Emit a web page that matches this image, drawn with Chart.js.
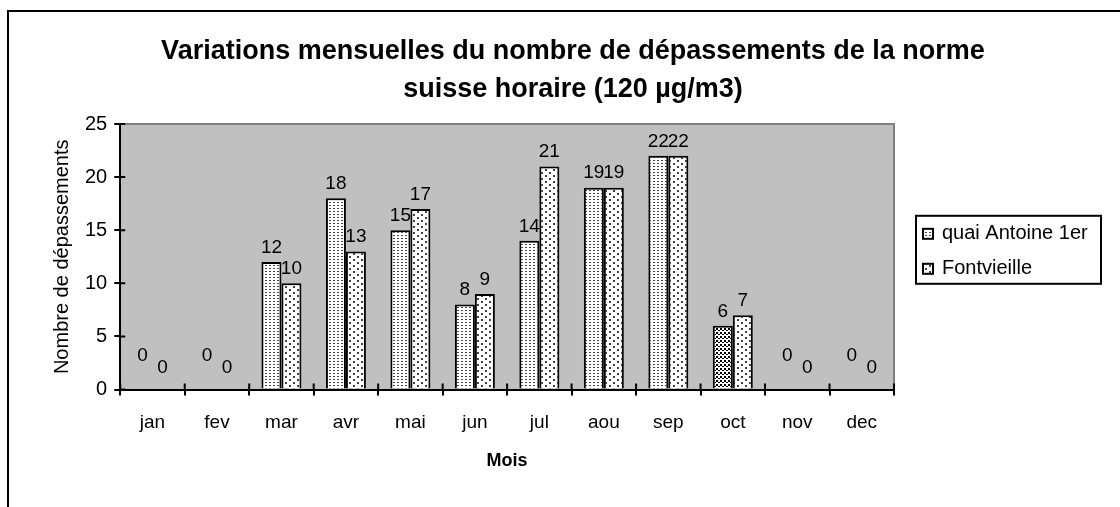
<!DOCTYPE html>
<html>
<head>
<meta charset="utf-8">
<title>Dépassements mensuels</title>
<script src="https://cdn.jsdelivr.net/npm/chart.js@4/dist/chart.umd.min.js"></script>
<style>
  body { margin: 0; background: #fff; }
  #wrap { width: 1120px; height: 507px; }
</style>
</head>
<body>
<div id="wrap"><canvas id="depChart"></canvas></div>
<script>
// Mois et nombre de dépassements
const months = ['jan', 'fev', 'mar', 'avr', 'mai', 'jun', 'jul', 'aou', 'sep', 'oct', 'nov', 'dec'];
const quaiAntoine = [0, 0, 12, 18, 15, 8, 14, 19, 22, 6, 0, 0];
const fontvieille = [0, 0, 10, 13, 17, 9, 21, 19, 22, 7, 0, 0];
const seriesNames = ['quai Antoine 1er', 'Fontvieille'];
const titleLines = ['Variations mensuelles du nombre de dépassements de la norme', 'suisse horaire (120 µg/m3)'];
const yTicks = { min: 0, max: 25, step: 5 };

const FONT = "'Liberation Sans', Arial, sans-serif";

// Small tiles used as fill patterns for the bars
function makePattern(w, h, dots, color) {
    const c = document.createElement('canvas');
    c.width = w;
    c.height = h;
    const g = c.getContext('2d');
    g.fillStyle = '#fff';
    g.fillRect(0, 0, w, h);
    g.fillStyle = color;
    dots.forEach(d => g.fillRect(d[0], d[1], d[2], d[3]));
    return g.createPattern(c, 'repeat');
}

const denseDots = makePattern(4, 3, [[1, 1, 2, 1]], '#444');
const sparseDots = makePattern(8, 6, [[1, 1, 2, 2], [5, 4, 2, 2]], '#444');
const checker = makePattern(4, 4, [[0, 0, 2, 2], [2, 2, 2, 1]], '#000');

// October bar of the first series uses a different pattern
const quaiFill = months.map(m => m === 'oct' ? checker : denseDots);

const frameAndArea = {
    id: 'frameAndArea',
    beforeDraw(chart) {
        const { ctx, chartArea: a } = chart;
        ctx.save();
        ctx.fillStyle = '#fff';
        ctx.fillRect(0, 0, chart.width, chart.height);
        ctx.strokeStyle = '#000';
        ctx.lineWidth = 2;
        ctx.strokeRect(8, 11, chart.width + 20, chart.height + 20);
        ctx.fillStyle = '#c0c0c0';
        ctx.fillRect(a.left, a.top, a.right - a.left, a.bottom - a.top);
        ctx.strokeStyle = '#808080';
        ctx.beginPath();
        ctx.moveTo(a.left, a.top);
        ctx.lineTo(a.right, a.top);
        ctx.lineTo(a.right, a.bottom);
        ctx.stroke();
        // chart title, centred on the whole frame
        ctx.fillStyle = '#000';
        ctx.font = 'bold 27px ' + FONT;
        ctx.textAlign = 'center';
        ctx.textBaseline = 'middle';
        titleLines.forEach((t, i) => ctx.fillText(t, 573, 52 + i * 38));
        ctx.restore();
    }
};

// Tick marks cross the axes: draw the inner half
const innerTicks = {
    id: 'innerTicks',
    afterDraw(chart) {
        const { ctx, chartArea: a, scales: { x, y } } = chart;
        ctx.save();
        ctx.strokeStyle = '#000';
        ctx.lineWidth = 2;
        ctx.beginPath();
        y.ticks.forEach(t => {
            const py = y.getPixelForValue(t.value);
            ctx.moveTo(a.left, py);
            ctx.lineTo(a.left + 5, py);
        });
        const step = x.getPixelForTick(1) - x.getPixelForTick(0);
        for (let i = 0; i <= months.length; i++) {
            const px = x.getPixelForTick(0) - step / 2 + i * step;
            ctx.moveTo(px, a.bottom);
            ctx.lineTo(px, a.bottom - 6);
        }
        ctx.stroke();
        ctx.restore();
    }
};

const valueLabels = {
    id: 'valueLabels',
    afterDatasetsDraw(chart) {
        const { ctx, scales: { y } } = chart;
        const base = y.getPixelForValue(0);
        ctx.save();
        ctx.font = '19px ' + FONT;
        ctx.fillStyle = '#000';
        ctx.textAlign = 'center';
        chart.data.datasets.forEach((ds, di) => {
            chart.getDatasetMeta(di).data.forEach((bar, i) => {
                const v = ds.data[i];
                if (v === 0) {
                    ctx.textBaseline = 'middle';
                    ctx.fillText(String(v), bar.x, base - (di === 0 ? 34 : 22));
                } else {
                    ctx.textBaseline = 'bottom';
                    ctx.fillText(String(v), bar.x, bar.y - 5);
                }
            });
        });
        ctx.restore();
    }
};

// Legend in a framed box on the right
const boxLegend = {
    id: 'boxLegend',
    afterDraw(chart) {
        const { ctx, chartArea: a } = chart;
        const bx = a.right + 22;
        const by = (a.top + a.bottom) / 2 - 41;
        const fills = [denseDots, sparseDots];
        ctx.save();
        ctx.fillStyle = '#fff';
        ctx.fillRect(bx, by, 185, 68);
        ctx.strokeStyle = '#000';
        ctx.lineWidth = 2;
        ctx.strokeRect(bx, by, 185, 68);
        ctx.font = '20px ' + FONT;
        ctx.textBaseline = 'middle';
        ctx.textAlign = 'left';
        seriesNames.forEach((name, i) => {
            const cy = by + 18 + i * 35;
            ctx.fillStyle = fills[i];
            ctx.fillRect(bx + 7, cy - 5, 10, 10);
            ctx.strokeRect(bx + 7, cy - 5, 10, 10);
            ctx.fillStyle = '#000';
            ctx.fillText(name, bx + 26, cy);
        });
        ctx.restore();
    }
};

const ctx = document.getElementById('depChart').getContext('2d');

new Chart(ctx, {
    type: 'bar',
    data: {
        labels: months,
        datasets: [
            {
                label: seriesNames[0],
                data: quaiAntoine,
                backgroundColor: quaiFill,
                borderColor: '#000',
                borderWidth: 2,
                barPercentage: 1,
                categoryPercentage: 0.62
            },
            {
                label: seriesNames[1],
                data: fontvieille,
                backgroundColor: sparseDots,
                borderColor: '#000',
                borderWidth: 2,
                barPercentage: 1,
                categoryPercentage: 0.62
            }
        ]
    },
    options: {
        responsive: true,
        maintainAspectRatio: false,
        animation: false,
        layout: {
            padding: { left: 40, right: 226, top: 124, bottom: 35 }
        },
        plugins: {
            legend: { display: false },
            tooltip: { enabled: false },
            title: { display: false }
        },
        scales: {
            x: {
                grid: { display: true, drawOnChartArea: false, drawTicks: true, tickLength: 6, color: '#000', lineWidth: 2 },
                border: { display: true, color: '#000', width: 2 },
                ticks: { color: '#000', font: { family: FONT, size: 19 }, padding: 16, maxRotation: 0 },
                title: {
                    display: true,
                    text: 'Mois',
                    color: '#000',
                    font: { family: FONT, size: 18, weight: 'bold' },
                    padding: { top: 0, bottom: 0 }
                }
            },
            y: {
                min: yTicks.min,
                max: yTicks.max,
                grid: { display: true, drawOnChartArea: false, drawTicks: true, tickLength: 6, color: '#000', lineWidth: 2 },
                border: { display: true, color: '#000', width: 2 },
                ticks: { stepSize: yTicks.step, color: '#000', font: { family: FONT, size: 20 }, padding: 7 },
                title: {
                    display: true,
                    text: 'Nombre de dépassements',
                    color: '#000',
                    font: { family: FONT, size: 20 },
                    padding: { top: 10, bottom: 4 }
                }
            }
        }
    },
    plugins: [frameAndArea, innerTicks, valueLabels, boxLegend]
});
</script>
</body>
</html>
